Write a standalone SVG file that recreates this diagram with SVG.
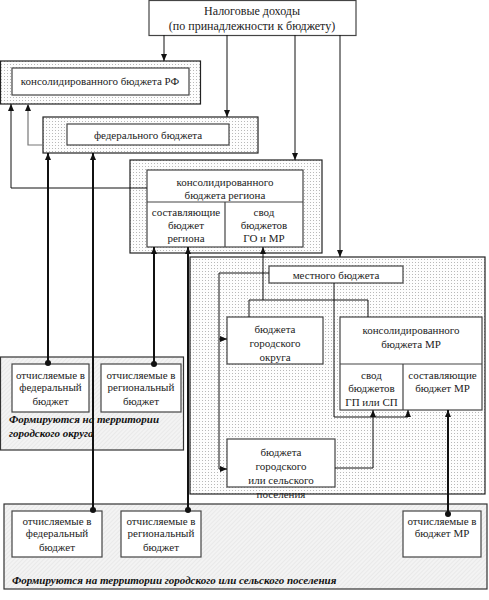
<svg xmlns="http://www.w3.org/2000/svg" width="489" height="600" viewBox="0 0 489 600">
<defs>
<pattern id="dots" width="3" height="3" patternUnits="userSpaceOnUse"><rect width="3" height="3" fill="#fdfdfd"/><rect x="1" y="1" width="1" height="1" fill="#b8b8b8"/></pattern>
<pattern id="hatch" width="3" height="3" patternUnits="userSpaceOnUse" patternTransform="rotate(45)"><rect width="3" height="3" fill="#f3f3f3"/><line x1="0" y1="0" x2="0" y2="3" stroke="#e0e0e0" stroke-width="1"/></pattern>
<marker id="arr" markerUnits="userSpaceOnUse" markerWidth="8" markerHeight="8" viewBox="0 0 8 8" refX="7" refY="4" orient="auto"><path d="M0,1 L7,4 L0,7 z" fill="#111"/></marker>
<marker id="arrg" markerUnits="userSpaceOnUse" markerWidth="8" markerHeight="8" viewBox="0 0 8 8" refX="7" refY="4" orient="auto"><path d="M0,1 L7,4 L0,7 z" fill="#111"/></marker>
<marker id="dot" markerUnits="userSpaceOnUse" markerWidth="8" markerHeight="8" viewBox="0 0 8 8" refX="4" refY="4"><circle cx="4" cy="4" r="3" fill="#111"/></marker>
</defs>
<style>
.outer{fill:url(#dots);stroke:#222;stroke-width:1.2}
.terr{fill:url(#hatch);stroke:#333;stroke-width:1.2}
.box{fill:#fff;stroke:#444;stroke-width:1.2}
.t{font-family:"Liberation Serif","Times New Roman",serif;font-size:11px;fill:#222;text-anchor:middle}
.big{font-size:12px}
.lab{font-family:"Liberation Serif","Times New Roman",serif;font-size:11px;font-weight:bold;font-style:italic;fill:#111}
.c{fill:none;stroke:#111;stroke-width:1}
.g{fill:none;stroke:#777;stroke-width:1.2}
.k{fill:none;stroke:#111;stroke-width:2}
</style>
<rect width="489" height="600" fill="#fff"/>

<g id="territory-go">
<rect class="terr" x="0.5" y="357" width="183" height="93"/>
<text class="lab" x="9" y="423">Формируются на территории</text>
<text class="lab" x="9" y="437">городского округа</text>
</g>
<g id="territory-settlement">
<rect class="terr" x="4" y="504" width="483" height="85"/>
<text class="lab" x="12" y="584">Формируются на территории городского или сельского поселения</text>
</g>

<g id="top">
<rect class="box" x="149" y="0.5" width="207" height="35"/>
<text class="t big" x="252" y="15">Налоговые доходы</text>
<text class="t big" x="252" y="30">(по принадлежности к бюджету)</text>
</g>

<g id="rf">
<rect class="outer" x="0.5" y="61" width="200" height="43"/>
<rect class="box" x="12" y="68" width="177" height="27"/>
<text class="t" x="100" y="85">консолидированного бюджета РФ</text>
</g>

<g id="federal">
<rect class="outer" x="43" y="117" width="215" height="36"/>
<rect class="box" x="67" y="124" width="162" height="21"/>
<text class="t" x="148" y="139">федерального бюджета</text>
</g>

<g id="region">
<rect class="outer" x="130" y="160" width="192" height="93"/>
<rect class="box" x="147" y="170" width="156" height="77"/>
<line x1="147" y1="202" x2="303" y2="202" stroke="#444" stroke-width="1.2"/>
<line x1="225" y1="202" x2="225" y2="247" stroke="#444" stroke-width="1.2"/>
<text class="t" x="225" y="186">консолидированного</text>
<text class="t" x="225" y="199">бюджета региона</text>
<text class="t" x="186" y="216">составляющие</text>
<text class="t" x="186" y="229">бюджет</text>
<text class="t" x="186" y="242">региона</text>
<text class="t" x="264" y="216">свод</text>
<text class="t" x="264" y="229">бюджетов</text>
<text class="t" x="264" y="242">ГО и МР</text>
</g>

<g id="local">
<rect class="outer" x="190" y="257" width="295" height="237"/>
<rect class="box" x="269" y="266" width="134" height="17"/>
<text class="t" x="336" y="279">местного бюджета</text>
</g>

<g id="go">
<rect class="box" x="227" y="317" width="96" height="47"/>
<text class="t" x="275" y="333">бюджета</text>
<text class="t" x="275" y="347">городского</text>
<text class="t" x="275" y="361">округа</text>
</g>

<g id="mr">
<rect class="box" x="340" y="317" width="142" height="93"/>
<line x1="340" y1="364" x2="482" y2="364" stroke="#444" stroke-width="1.2"/>
<line x1="403" y1="364" x2="403" y2="410" stroke="#444" stroke-width="1.2"/>
<text class="t" x="411" y="334">консолидированного</text>
<text class="t" x="411" y="348">бюджета МР</text>
<text class="t" x="371.5" y="379">свод</text>
<text class="t" x="371.5" y="392">бюджетов</text>
<text class="t" x="371.5" y="406">ГП или СП</text>
<text class="t" x="442.5" y="379">составляющие</text>
<text class="t" x="442.5" y="392">бюджет МР</text>
</g>

<g id="settlement">
<rect class="box" x="227" y="439" width="108" height="48"/>
<text class="t" x="281" y="456">бюджета</text>
<text class="t" x="281" y="470">городского</text>
<text class="t" x="281" y="484">или сельского</text>
<text class="t" x="281" y="498">поселения</text>
</g>

<g id="go-fed">
<rect class="box" x="12" y="364" width="77" height="48"/>
<text class="t" x="50.5" y="379">отчисляемые в</text>
<text class="t" x="50.5" y="391">федеральный</text>
<text class="t" x="50.5" y="405">бюджет</text>
</g>
<g id="go-reg">
<rect class="box" x="101" y="364" width="80" height="48"/>
<text class="t" x="141" y="379">отчисляемые в</text>
<text class="t" x="141" y="391">региональный</text>
<text class="t" x="141" y="405">бюджет</text>
</g>

<g id="st-fed">
<rect class="box" x="12" y="511" width="90" height="46"/>
<text class="t" x="57" y="525">отчисляемые в</text>
<text class="t" x="57" y="537">федеральный</text>
<text class="t" x="57" y="551">бюджет</text>
</g>
<g id="st-reg">
<rect class="box" x="121" y="511" width="80" height="46"/>
<text class="t" x="161" y="525">отчисляемые в</text>
<text class="t" x="161" y="537">региональный</text>
<text class="t" x="161" y="551">бюджет</text>
</g>
<g id="st-mr">
<rect class="box" x="403" y="511" width="78" height="46"/>
<text class="t" x="442" y="525">отчисляемые в</text>
<text class="t" x="442" y="537">бюджет МР</text>
</g>

<g id="connectors">
<path class="c" d="M164,35 V61" marker-end="url(#arr)"/>
<path class="c" d="M227,35 V117" marker-end="url(#arr)"/>
<path class="c" d="M295,35 V160" marker-end="url(#arr)"/>
<path class="c" d="M340,35 V257" marker-end="url(#arr)"/>
<path class="g" d="M43,145 H28 V104" marker-end="url(#arrg)"/>
<path class="c" d="M147,188 H11 V104" marker-end="url(#arr)"/>
<path class="k" d="M48,363 V153" marker-start="url(#dot)" marker-end="url(#arr)"/>
<path class="k" d="M93,510 V153" marker-start="url(#dot)" marker-end="url(#arr)"/>
<path class="k" d="M154,364 V247" marker-start="url(#dot)" marker-end="url(#arr)"/>
<path class="k" d="M188,510 V247" marker-start="url(#dot)" marker-end="url(#arr)"/>
<path class="c" d="M249,317 V300 H368 V317"/>
<path class="c" d="M263,300 V247" marker-end="url(#arr)"/>
<path class="c" d="M269,273 H219 V469 H227" marker-end="url(#arr)"/>
<path class="c" d="M219,339 H227" marker-end="url(#arr)"/>
<path class="c" d="M334,283 V417 H408 V410" marker-end="url(#arr)"/>
<path class="c" d="M335,468 H373 V410" marker-end="url(#arr)"/>
<path class="k" d="M448,514 V410" marker-start="url(#dot)" marker-end="url(#arr)"/>
</g>
</svg>
